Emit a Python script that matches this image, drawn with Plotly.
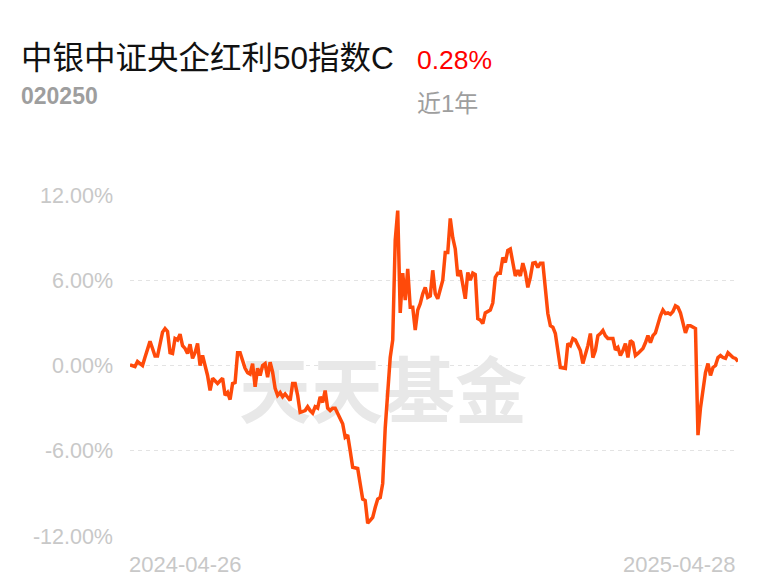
import plotly.graph_objects as go

# Trading-day index (0 = 2024-04-26) and cumulative return (%)
days = [0, 2, 3, 4, 5, 6, 8, 9, 10, 11, 13, 14, 15, 16, 17, 18, 19, 20, 21, 22,
        23, 24, 25, 26, 27, 28, 29, 31, 32, 33, 35, 37, 38, 39, 40, 41, 42, 43, 44, 46,
        47, 48, 49, 50, 51, 52, 53, 54, 55, 56, 57, 58, 59, 60, 61, 62, 64, 65, 66, 67,
        68, 70, 71, 72, 73, 74, 75, 76, 77, 78, 79, 80, 81, 82, 83, 85, 86, 87, 88, 89,
        91, 92, 93, 94, 95, 96, 97, 98, 99, 100, 101, 102, 103, 104, 105, 106, 107, 108, 109, 110,
        111, 112, 113, 114, 115, 116, 117, 118, 119, 120, 121, 122, 123, 124, 125, 126, 127, 128, 129, 130,
        131, 132, 133, 134, 135, 136, 137, 138, 139, 140, 141, 142, 144, 145, 146, 147, 148, 149, 150, 151,
        152, 154, 155, 156, 157, 158, 159, 160, 161, 162, 163, 164, 165, 166, 167, 168, 169, 170, 171, 172,
        174, 175, 176, 177, 178, 180, 181, 182, 183, 184, 185, 186, 187, 188, 189, 190, 191, 193, 194, 195,
        196, 197, 198, 199, 200, 201, 202, 203, 205, 206, 207, 208, 209, 210, 211, 212, 213, 214, 215, 216,
        217, 218, 219, 220, 221, 222, 223, 224, 226, 227, 228, 229, 230, 231, 232, 233, 234, 235, 236, 237,
        238, 239, 240, 241, 242, 243]
returns = [0.05, -0.07, 0.28, 0.16, 0.0, 0.58, 1.7, 1.2, 0.66, 0.66, 2.35, 2.6, 2.4, 0.9, 0.85, 1.9, 1.8, 2.2, 1.4, 1.2,
           0.85, 1.5, 0.5, 0.9, 1.55, 0.0, 0.7, -0.7, -1.76, -0.9, -1.27, -0.9, -2.1, -1.9, -2.4, -1.27, -1.2, 0.9, 0.9, -0.2,
           -0.5, -0.6, 0.13, -1.5, -0.2, -0.7, 0.0, 0.13, -0.82, 0.23, -0.47, -1.6, -2.1, -1.9, -2.2, -2.0, -2.46, -1.27, -1.27, -2.1,
           -3.3, -3.17, -2.9, -3.17, -3.35, -2.9, -3.0, -2.2, -2.6, -1.76, -3.0, -3.17, -3.0, -3.0, -3.4, -4.1, -5.05, -4.9, -6.0, -7.16,
           -7.25, -8.3, -9.4, -9.5, -11.1, -10.9, -10.7, -10.0, -9.4, -9.3, -8.3, -4.4, -1.76, 0.56, 1.8, 8.8, 10.9, 3.7, 6.5, 4.6,
           6.8, 4.1, 4.1, 2.5, 3.9, 4.35, 5.05, 5.5, 4.8, 4.9, 6.7, 5.05, 4.7, 5.3, 6.0, 7.95, 7.95, 10.35, 9.0, 8.2,
           6.3, 6.7, 5.6, 4.7, 6.55, 6.0, 6.5, 6.4, 3.3, 3.2, 2.95, 3.7, 3.9, 4.4, 6.2, 6.5, 6.5, 7.6, 7.25, 8.1,
           8.2, 6.3, 6.7, 6.3, 7.2, 6.55, 5.5, 6.2, 7.2, 7.25, 6.9, 7.2, 7.2, 5.5, 3.66, 2.8, 2.7, 2.25, 1.05, -0.14,
           -0.2, 1.55, 1.4, 1.9, 1.8, 1.05, 0.14, 0.7, 1.4, 2.25, 0.56, 1.05, 2.1, 2.25, 2.46, 2.1, 1.9, 1.9, 1.1, 1.27,
           0.7, 1.05, 1.55, 0.56, 1.76, 1.6, 0.7, 0.85, 1.2, 1.6, 2.1, 1.6, 2.1, 2.3, 3.0, 3.5, 3.9, 3.66, 3.7, 3.6,
           3.8, 4.2, 4.1, 3.7, 3.0, 2.3, 2.8, 2.8, 2.6, -4.9, -3.0, -1.5, -0.5, 0.14, -0.7, -0.14, 0.0, 0.56, 0.7, 0.56,
           0.5, 0.9, 0.7, 0.56, 0.5, 0.28]

y_ticks = [-12, -6, 0, 6, 12]
y_tick_labels = ["-12.00%", "-6.00%", "0.00%", "6.00%", "12.00%"]
date_labels = ["2024-04-26", "2025-04-28"]
fund_name = "中银中证央企红利50指数C"
fund_code = "020250"
period_return = "0.28%"
period_label = "近1年"
watermark = "天天基金"

FONT = "Liberation Sans, Noto Sans CJK SC, sans-serif"
n_last = days[-1]

fig = go.Figure()
# watermark as a text trace so the line is drawn on top of it
fig.add_trace(go.Scatter(
    x=[n_last * 0.416], y=[-2.35], mode="text", text=[watermark],
    textfont=dict(size=72, color="#e8e8e8", family="Noto Sans CJK SC", weight="bold"),
    hoverinfo="skip", showlegend=False))
fig.add_trace(go.Scatter(
    x=days, y=returns, mode="lines",
    line=dict(color="#ff4a0a", width=3.5, shape="linear"),
    hoverinfo="skip", showlegend=False))

fig.update_layout(
    width=768, height=587,
    margin=dict(l=122, r=38, t=187, b=59),
    paper_bgcolor="white", plot_bgcolor="white",
    font=dict(family=FONT),
    xaxis=dict(range=[0, n_last], showgrid=False, zeroline=False, showline=False,
               showticklabels=False, ticks=""),
    yaxis=dict(range=[-12, 12], tickvals=y_ticks, ticktext=y_tick_labels,
               showgrid=True, gridcolor="#e3e3e3", griddash="4px,4px", gridwidth=1,
               zeroline=False, showline=False, ticks="",
               tickfont=dict(size=21.5, color="#c8c8c8", family=FONT),
               ticklabelstandoff=16),
)

ann = [
    dict(text=fund_name, x=-0.1826, y=1.403, xanchor="left", yanchor="middle",
         font=dict(size=31.5, color="#111111", family=FONT)),
    dict(text=period_return, x=0.4688, y=1.397, xanchor="left", yanchor="middle",
         font=dict(size=26.5, color="#ff0000", family=FONT)),
    dict(text="<b>" + fund_code + "</b>", x=-0.1826, y=1.289, xanchor="left", yanchor="middle",
         font=dict(size=23, color="#9e9e9e", family=FONT)),
    dict(text=period_label, x=0.4688, y=1.268, xanchor="left", yanchor="middle",
         font=dict(size=24, color="#9e9e9e", family=FONT)),
    dict(text=date_labels[0], x=0, y=-0.085, xref="x", xanchor="left", yanchor="middle",
         xshift=-3, font=dict(size=22, color="#c8c8c8", family=FONT)),
    dict(text=date_labels[1], x=n_last, y=-0.085, xref="x", xanchor="right", yanchor="middle",
         font=dict(size=22, color="#c8c8c8", family=FONT)),
]
for a in ann:
    a.setdefault("xref", "paper")
    a["yref"] = "paper"
    a["showarrow"] = False
fig.update_layout(annotations=ann)

fig.write_html("out.html")
